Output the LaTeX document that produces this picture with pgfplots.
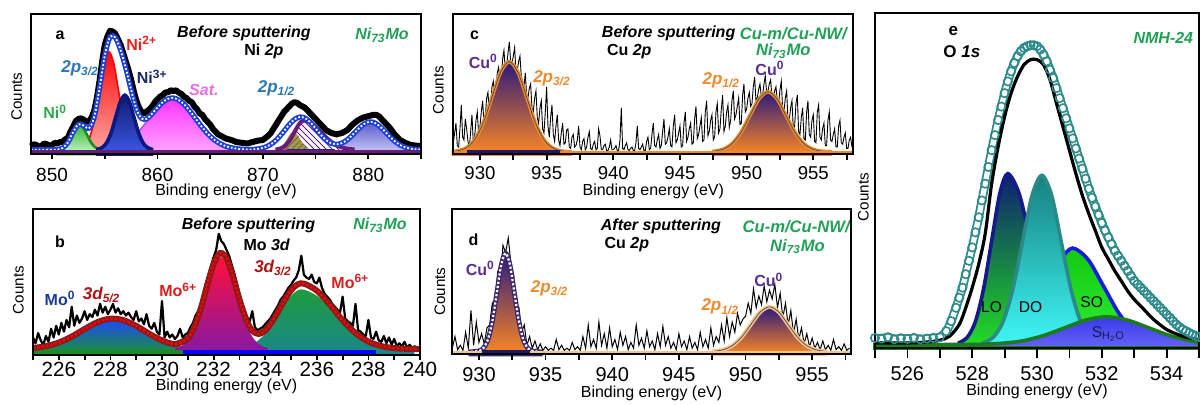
\documentclass[border=0pt]{standalone}
\usepackage{fontspec}
\setmainfont{Liberation Sans}
\usepackage{pgfplots}
\pgfplotsset{compat=1.18}
\usetikzlibrary{patterns}
\newcommand{\fs}[1]{\fontsize{#1}{#1}\selectfont}
\definecolor{ni0green}{HTML}{2BA84A}
\definecolor{labgreen}{HTML}{1FA055}
\definecolor{nired}{HTML}{E8201F}
\definecolor{ninavy}{HTML}{1A2A6C}
\definecolor{labblue}{HTML}{2877B8}
\definecolor{satpink}{HTML}{E66EE6}
\definecolor{envblue}{HTML}{1C3FD6}
\definecolor{bgpurple}{HTML}{6A1A7A}
\definecolor{modark}{HTML}{8B1A1A}
\definecolor{moblue}{HTML}{1A3A9A}
\definecolor{mored}{HTML}{D81E1E}
\definecolor{cupurple}{HTML}{5A2D91}
\definecolor{cuorange}{HTML}{EE8A2C}
\definecolor{tealdata}{HTML}{2E8B8B}
\definecolor{mogreenbar}{RGB}{25,140,40}
\definecolor{cunavy}{RGB}{25,25,110}
\definecolor{cupeach}{RGB}{245,195,140}
\definecolor{shtext}{RGB}{26,26,90}
\pgfplotsset{
  xpsaxis/.style={
    scale only axis, axis on top, clip=false, anchor=south west,
    axis line style={line width=1pt},
    ytick=\empty, ymin=0, ymax=100,
    tick align=outside, xtick pos=left,
    major tick length=2.5pt, minor tick length=2.5pt,
    every tick/.style={black, line width=0.9pt},
    /pgf/number format/assume math mode=true,
    /pgf/number format/1000 sep={},
  }
}
\begin{document}
\begin{tikzpicture}
\useasboundingbox (0,0) rectangle (600pt,202.5pt);

%%%%%%%%%%%%%%%% PANEL A
\begin{axis}[xpsaxis, at={(15.5pt,125.5pt)}, width=195pt, height=70pt,
  xmin=848, xmax=885, xtick={850,860,870,880}, minor xtick={855,865,875,885},
  xticklabel style={font=\fs{9.5}, anchor=center, yshift=-8pt}]
\addplot[black, line width=3pt, line join=round] coordinates {
(848,5.5) (848.25,7) (848.5,6.5) (848.75,5) (849,5.8) (849.25,7.5) (849.5,7.0) (849.75,6) (850,6.2) (850.25,8) (850.5,7.5) (850.75,8.5) (851,8.8) (851.25,10.5) (851.5,11.5) (851.75,16) (852,19.5) (852.25,23.5) (852.5,25) (852.75,25.5) (853,24.5) (853.25,23) (853.5,23.5) (853.75,26) (854,31) (854.25,40) (854.5,52) (854.75,66) (855,78) (855.25,84) (855.5,88) (855.75,87.5) (856,86) (856.25,82) (856.5,78) (856.75,72) (857,66) (857.25,60) (857.5,53) (857.75,45) (858,38) (858.25,33) (858.5,30) (858.75,29) (859,30.5) (859.25,32) (859.5,34) (859.75,37) (860,39) (860.25,41) (860.5,42) (860.75,44) (861,44) (861.25,45.5) (861.5,45) (861.75,45.5) (862,44) (862.25,43) (862.5,41) (862.75,40) (863,38) (863.25,37) (863.5,34) (863.75,32) (864,29) (864.25,28) (864.5,25) (864.75,23) (865,21) (865.25,18) (865.5,16) (865.75,14) (866,13) (866.25,12) (866.5,11) (866.75,10.5) (867,10) (867.5,8.5) (868,8) (868.5,7.5) (869,8.5) (869.5,9.5) (870,10) (870.25,11.5) (870.5,13) (870.75,15) (871,18) (871.25,21) (871.5,24) (871.75,27) (872,30) (872.25,32) (872.5,34) (872.75,36) (873,37) (873.25,36.5) (873.5,35) (873.75,34) (874,33) (874.25,31) (874.5,29) (874.75,27) (875,25) (875.25,23) (875.5,21) (875.75,19) (876,17) (876.5,15) (877,14) (877.5,15) (878,17) (878.5,21) (879,24) (879.5,26) (880,27) (880.25,27.5) (880.5,28) (880.75,28) (881,27) (881.5,23) (882,19) (882.5,14) (883,10) (883.5,8) (884,6.5) (884.5,6) (885,5.5)};
% Sat
\addplot[draw=satpink!80!black, line width=0.8pt, smooth, top color={rgb,255:red,255;green,50;blue,255}, bottom color={rgb,255:red,255;green,170;blue,255}] coordinates {
(854.8,3.4) (855.9,4.6) (857,8.0) (858.1,15.0) (859.2,25.4) (860.3,35.7) (861.4,40) (862.5,35.7) (863.6,25.4) (864.7,15.0) (865.8,8.0) (866.9,4.6) (868,3.4)} \closedcycle;
% Ni2+
\addplot[draw=red, line width=0.8pt, smooth, top color={rgb,255:red,255;green,10;blue,10}, bottom color={rgb,255:red,250;green,170;blue,165}] coordinates {
(852.7,3.8) (853.15,6.1) (853.6,12.5) (854.05,25.7) (854.5,45.5) (854.95,64.8) (855.4,73) (855.85,64.8) (856.3,45.5) (856.75,25.7) (857.2,12.5) (857.65,6.1) (858.1,3.8)} \closedcycle;
% Ni0
\addplot[draw={rgb,255:red,30;green,140;blue,30}, line width=1.3pt, smooth, top color={rgb,255:red,50;green,185;blue,50}, bottom color={rgb,255:red,200;green,245;blue,200}] coordinates {
(850.5,3.2) (850.85,3.8) (851.2,5.4) (851.55,8.8) (851.9,13.9) (852.25,18.9) (852.6,21) (852.95,18.9) (853.3,13.9) (853.65,8.8) (854,5.4) (854.35,3.8) (854.7,3.2)} \closedcycle;
% Ni3+
\addplot[draw={rgb,255:red,10;green,25;blue,125}, line width=1.8pt, smooth, top color={rgb,255:red,15;green,25;blue,110}, bottom color={rgb,255:red,60;green,90;blue,232}] coordinates {
(854.35,3.4) (854.78,4.7) (855.2,8.3) (855.63,15.7) (856.05,26.7) (856.48,37.4) (856.9,42) (857.33,37.4) (857.75,26.7) (858.18,15.7) (858.6,8.3) (859.03,4.7) (859.45,3.4)} \closedcycle;
% 880 peak
\addplot[draw=none, smooth, top color={rgb,255:red,90;green,90;blue,205}, bottom color={rgb,255:red,205;green,205;blue,248}] coordinates {
(875.7,3.2) (876.45,3.9) (877.2,5.7) (877.95,9.5) (878.7,15.1) (879.45,20.7) (880.2,23) (880.95,20.7) (881.7,15.1) (882.45,9.5) (883.2,5.7) (883.95,3.9) (884.7,3.2)} \closedcycle;
% purple hatched
\addplot[draw=none, smooth, fill=white] coordinates {
(871.2,3.2) (871.65,3.9) (872.1,5.8) (872.55,9.8) (873.0,15.7) (873.45,21.5) (873.9,24) (874.7,21.5) (875.5,15.7) (876.3,9.8) (877.1,5.8) (877.9,3.9) (878.7,3.2)} \closedcycle;
\addplot[draw=none, smooth, pattern=north west lines, pattern color=bgpurple] coordinates {
(871.2,3.2) (871.65,3.9) (872.1,5.8) (872.55,9.8) (873.0,15.7) (873.45,21.5) (873.9,24) (874.7,21.5) (875.5,15.7) (876.3,9.8) (877.1,5.8) (877.9,3.9) (878.7,3.2)} \closedcycle;
% olive
\addplot[draw=none, smooth, fill={rgb,255:red,170;green,155;blue,60}] coordinates {
(871.1,3.1) (871.4,3.6) (871.7,4.8) (872.0,7.2) (872.3,10.9) (872.6,14.5) (872.9,16) (873.2,14.5) (873.5,10.9) (873.8,7.2) (874.1,4.8) (874.4,3.6) (874.7,3.1)} \closedcycle;
\addplot[draw=none, smooth, pattern=north east lines, pattern color=black!60] coordinates {
(871.1,3.1) (871.4,3.6) (871.7,4.8) (872.0,7.2) (872.3,10.9) (872.6,14.5) (872.9,16) (873.2,14.5) (873.5,10.9) (873.8,7.2) (874.1,4.8) (874.4,3.6) (874.7,3.1)} \closedcycle;
\addplot[bgpurple, line width=2pt, smooth] coordinates {
(871.2,3.2) (871.65,3.9) (872.1,5.8) (872.55,9.8) (873.0,15.7) (873.45,21.5) (873.9,24) (874.7,21.5) (875.5,15.7) (876.3,9.8) (877.1,5.8) (877.9,3.9) (878.7,3.2)};
\addplot[ninavy, line width=1.5pt] coordinates {(872.3,2.6) (876.8,2.6)};
% envelope
\addplot[envblue, line width=2.6pt, smooth] coordinates {
(848,3) (848.5,3) (849,3) (849.5,3) (850,3) (850.5,3.2) (851,4.3) (851.5,8.2) (852,15.6) (852.5,21.2) (853,20.3) (853.5,18.4) (854,26.4) (854.5,46.7) (855,70.2) (855.5,83.6) (856,83.2) (856.5,74.2) (857,61.1) (857.5,45.7) (858,32.2) (858.5,25.3) (859,25.2) (859.5,28.9) (860,33.2) (860.5,37) (861,39.4) (861.5,40) (862,38.6) (862.5,35.7) (863,31.4) (863.5,26.5) (864,21.4) (864.5,16.7) (865,12.7) (865.5,9.5) (866,7.2) (866.5,5.5) (867,4.5) (867.5,3.8) (868,3.4) (868.5,3.2) (869,3.2) (869.5,3.6) (870,4.3) (870.5,5.8) (871,8.2) (871.5,11.8) (872,16.3) (872.5,21) (873,24.7) (873.5,26.4) (874,25.7) (874.5,22.6) (875,18.3) (875.5,13.7) (876,9.9) (876.5,7.6) (877,6.9) (877.5,7.8) (878,10.1) (878.5,13.6) (879,17.5) (879.5,20.9) (880,22.8) (880.5,22.6) (881,20.3) (881.5,16.7) (882,12.7) (882.5,9.2) (883,6.5) (883.5,4.8) (884,3.8) (884.5,3.3) (885,3.1)};
\addplot[white, line width=0.9pt, densely dotted, smooth] coordinates {
(848,3) (848.5,3) (849,3) (849.5,3) (850,3) (850.5,3.2) (851,4.3) (851.5,8.2) (852,15.6) (852.5,21.2) (853,20.3) (853.5,18.4) (854,26.4) (854.5,46.7) (855,70.2) (855.5,83.6) (856,83.2) (856.5,74.2) (857,61.1) (857.5,45.7) (858,32.2) (858.5,25.3) (859,25.2) (859.5,28.9) (860,33.2) (860.5,37) (861,39.4) (861.5,40) (862,38.6) (862.5,35.7) (863,31.4) (863.5,26.5) (864,21.4) (864.5,16.7) (865,12.7) (865.5,9.5) (866,7.2) (866.5,5.5) (867,4.5) (867.5,3.8) (868,3.4) (868.5,3.2) (869,3.2) (869.5,3.6) (870,4.3) (870.5,5.8) (871,8.2) (871.5,11.8) (872,16.3) (872.5,21) (873,24.7) (873.5,26.4) (874,25.7) (874.5,22.6) (875,18.3) (875.5,13.7) (876,9.9) (876.5,7.6) (877,6.9) (877.5,7.8) (878,10.1) (878.5,13.6) (879,17.5) (879.5,20.9) (880,22.8) (880.5,22.6) (881,20.3) (881.5,16.7) (882,12.7) (882.5,9.2) (883,6.5) (883.5,4.8) (884,3.8) (884.5,3.3) (885,3.1)};
\addplot[bgpurple, line width=2pt] coordinates {(848,1.2) (885,1.2)};
\node[font={\fs{8}\bfseries}] at (850.75,85) {a};
\node[font={\fs{8}\bfseries\itshape}] at (868.2,86.2) {Before sputtering};
\node[font={\fs{8}\bfseries}] at (870.1,73) {Ni \textit{2p}};
\node[font={\fs{8}\bfseries\itshape}, text=labgreen] at (881.3,85) {Ni\textsubscript{73}Mo};
\node[font={\fs{8}\bfseries}, text=nired] at (858.5,79) {Ni\textsuperscript{2+}};
\node[font={\fs{8.5}\bfseries\itshape}, text=labblue] at (852.65,61.2) {2p\textsubscript{3/2}};
\node[font={\fs{8}\bfseries}, text=ninavy] at (859.5,55.2) {Ni\textsuperscript{3+}};
\node[font={\fs{8}\bfseries\itshape}, text=satpink] at (864.4,45.7) {Sat.};
\node[font={\fs{8.5}\bfseries\itshape}, text=labblue] at (871.3,47) {2p\textsubscript{1/2}};
\node[font={\fs{8}\bfseries}, text=ni0green] at (850.3,30.2) {Ni\textsuperscript{0}};
\node[font=\fs{7.6}, rotate=90, yshift=7.2pt] at (rel axis cs:0,0.41) {Counts};
\node[font=\fs{8}, yshift=-18.5pt] at (rel axis cs:0.5,0) {Binding energy (eV)};
\end{axis}

%%%%%%%%%%%%%%%% PANEL B
\begin{axis}[xpsaxis, at={(16.5pt,25pt)}, width=193.5pt, height=73pt,
  xmin=225, xmax=240, xtick={226,228,230,232,234,236,238,240}, minor xtick={225,227,229,231,233,235,237,239},
  xticklabel style={font=\fs{10.3}, anchor=center, yshift=-4.5pt}]
\addplot[black, line width=1.1pt, line join=round] coordinates {
(225.0,12) (225.1,8) (225.2,15) (225.3,10) (225.4,7) (225.5,13) (225.6,9) (225.7,18) (225.8,12) (225.9,20) (226.0,14) (226.1,22) (226.2,16) (226.3,24) (226.4,19) (226.5,33) (226.6,20) (226.7,27) (226.8,22) (226.9,25) (227.0,30) (227.1,24) (227.2,28) (227.3,26) (227.4,31) (227.5,27) (227.6,35) (227.7,29) (227.8,33) (227.9,28) (228.0,31) (228.1,35) (228.2,29) (228.3,32) (228.4,28) (228.5,30) (228.6,27) (228.7,29) (228.8,26) (228.9,24) (229.0,30) (229.1,23) (229.2,25) (229.3,21) (229.4,28) (229.5,20) (229.6,18) (229.7,22) (229.8,16) (229.9,14) (230.0,37) (230.1,12) (230.2,16) (230.3,12) (230.4,14) (230.5,11) (230.6,13) (230.7,18) (230.8,12) (230.9,14) (231.0,15) (231.1,19) (231.2,22) (231.3,27) (231.4,30) (231.5,35) (231.6,42) (231.7,49) (231.8,55) (231.9,61) (232.0,67) (232.1,72) (232.2,83) (232.3,78) (232.4,76) (232.5,72) (232.6,68) (232.7,62) (232.8,56) (232.9,49) (233.0,42) (233.1,36) (233.2,31) (233.3,26) (233.4,23) (233.5,30) (233.6,19) (233.7,17) (233.8,18) (233.9,19) (234.0,21) (234.1,23) (234.2,25) (234.3,28) (234.4,31) (234.5,34) (234.6,38) (234.7,40) (234.8,43) (234.9,46) (235.0,48) (235.1,51) (235.2,53) (235.3,58) (235.4,68) (235.5,55) (235.6,53) (235.7,52) (235.8,55) (235.9,50) (236.0,49) (236.1,53) (236.2,46) (236.3,42) (236.4,40) (236.5,38) (236.6,35) (236.7,33) (236.8,31) (236.9,29) (237.0,40) (237.1,25) (237.2,23) (237.3,22) (237.4,20) (237.5,35) (237.6,17) (237.7,16) (237.8,14) (237.9,13) (238.0,24) (238.1,12) (238.2,11) (238.3,16) (238.4,10) (238.5,9) (238.6,13) (238.7,8) (238.8,12) (238.9,7) (239.0,11) (239.1,6) (239.2,8) (239.3,6) (239.4,9) (239.5,5) (239.6,7) (239.7,5) (239.8,6) (239.9,5) (240.0,5)};
% Mo0
\addplot[draw=none, smooth, top color={rgb,255:red,30;green,70;blue,255}, bottom color={rgb,255:red,25;green,150;blue,45}] coordinates {
(225,4.75) (225.1,4.9) (225.7,6.8) (226.3,10.8) (226.9,16.7) (227.5,22.5) (228.1,25) (228.7,22.5) (229.3,16.7) (229.9,10.8) (230.5,6.8) (231.1,4.9) (231.7,4.2) (232.3,4.0)} \closedcycle;
% green
\addplot[draw=none, smooth, top color={rgb,255:red,30;green,155;blue,60}, bottom color={rgb,255:red,25;green,135;blue,140}] coordinates {
(232.85,4.5) (233.28,5.8) (233.7,9.5) (234.13,17.3) (234.55,28.9) (234.98,40.2) (235.4,45) (236.03,40.2) (236.65,28.9) (237.28,17.3) (237.9,9.5) (238.53,5.8) (239.15,4.5) (239.78,4.1)} \closedcycle;
% red
\addplot[draw=none, smooth, top color={rgb,255:red,255;green,15;blue,60}, bottom color={rgb,255:red,130;green,25;blue,165}] coordinates {
(230.5,4.7) (230.8,6.8) (231.1,12.5) (231.4,24.5) (231.7,42.2) (232.0,59.6) (232.3,67) (232.6,59.6) (232.9,42.2) (233.2,24.5) (233.5,12.5) (233.8,6.8) (234.1,4.7)} \closedcycle;
\addplot[blue, line width=2.5pt] coordinates {(230.8,1.6) (238.3,1.6)};
\addplot[mogreenbar, line width=2.5pt] coordinates {(225,1.6) (230.8,1.6)};
% envelope
\addplot[modark, line width=3pt, smooth] coordinates {
(225,4.8) (225.5,6.0) (226,8.5) (226.5,12.6) (227,17.8) (227.5,22.5) (228,24.9) (228.5,23.9) (229,19.9) (229.5,14.6) (230,10.0) (230.5,7.5) (231,11.4) (231.25,19.0) (231.5,31.5) (231.75,47.6) (232,62.3) (232.25,69.8) (232.5,66.4) (232.75,53.8) (233,38.2) (233.25,24.7) (233.5,16.6) (233.75,14.4) (234,16.8) (234.25,22.4) (234.5,29.8) (234.75,37.6) (235,44.3) (235.25,48.3) (235.5,48.9) (236,44.1) (236.5,34.6) (237,23.8) (237.5,15.0) (238,9.2) (238.5,6.1) (239,4.7) (239.5,4.2) (240,4.0)};
\addplot[red, line width=1.2pt, densely dotted, smooth] coordinates {
(225,4.8) (225.5,6.0) (226,8.5) (226.5,12.6) (227,17.8) (227.5,22.5) (228,24.9) (228.5,23.9) (229,19.9) (229.5,14.6) (230,10.0) (230.5,7.5) (231,11.4) (231.25,19.0) (231.5,31.5) (231.75,47.6) (232,62.3) (232.25,69.8) (232.5,66.4) (232.75,53.8) (233,38.2) (233.25,24.7) (233.5,16.6) (233.75,14.4) (234,16.8) (234.25,22.4) (234.5,29.8) (234.75,37.6) (235,44.3) (235.25,48.3) (235.5,48.9) (236,44.1) (236.5,34.6) (237,23.8) (237.5,15.0) (238,9.2) (238.5,6.1) (239,4.7) (239.5,4.2) (240,4.0)};
\node[font={\fs{8}\bfseries}] at (226.05,77.6) {b};
\node[font={\fs{8}\bfseries\itshape}] at (233.35,89) {Before sputtering};
\node[font={\fs{8}\bfseries}] at (234.06,75.3) {Mo \textit{3d}};
\node[font={\fs{8}\bfseries\itshape}, text=labgreen] at (238.45,89) {Ni\textsubscript{73}Mo};
\node[font={\fs{8}\bfseries}, text=moblue] at (226.05,38.8) {Mo\textsuperscript{0}};
\node[font={\fs{8.5}\bfseries\itshape}, text=modark!70!red] at (227.66,41.1) {3d\textsubscript{5/2}};
\node[font={\fs{8}\bfseries}, text=mored] at (230.63,44.5) {Mo\textsuperscript{6+}};
\node[font={\fs{8.5}\bfseries\itshape}, text=modark!70!red] at (234.3,59.4) {3d\textsubscript{3/2}};
\node[font={\fs{8}\bfseries}, text=mored] at (237.3,50.2) {Mo\textsuperscript{6+}};
\node[font=\fs{7.6}, rotate=90, yshift=7.3pt] at (rel axis cs:0,0.445) {Counts};
\node[font=\fs{8}, yshift=-15.6pt] at (rel axis cs:0.5,0) {Binding energy (eV)};
\end{axis}

%%%%%%%%%%%%%%%% PANEL C
\begin{axis}[xpsaxis, at={(226.65pt,125.5pt)}, width=200pt, height=70pt,
  xmin=928, xmax=958, xtick={930,935,940,945,950,955}, minor xtick={932.5,937.5,942.5,947.5,952.5,957.5},
  major tick length=3.2pt, minor tick length=3.2pt,
  xticklabel style={font=\fs{9.3}, anchor=center, yshift=-6.2pt}]
\addplot[black, line width=0.45pt] coordinates {
(928.0,8) (928.1,15) (928.2,22) (928.3,6) (928.4,5) (928.5,18) (928.6,35) (928.7,12) (928.8,10) (928.9,25) (929.0,18) (929.1,9) (929.2,4) (929.3,16) (929.4,28) (929.5,8) (929.6,12) (929.7,24) (929.8,30) (929.9,14) (930.0,20) (930.1,30) (930.2,38) (930.3,22) (930.4,27) (930.5,40) (930.6,44) (930.7,30) (930.8,33) (930.9,48) (931.0,52) (931.1,40) (931.2,45) (931.3,58) (931.4,62) (931.5,50) (931.6,55) (931.7,68) (931.8,74) (931.9,60) (932.0,63) (932.1,72) (932.2,80) (932.3,66) (932.4,64) (932.5,70) (932.6,76) (932.7,58) (932.8,60) (932.9,66) (933.0,70) (933.1,55) (933.2,52) (933.3,48) (933.4,58) (933.5,42) (933.6,40) (933.7,47) (933.8,50) (933.9,33) (934.0,30) (934.1,40) (934.2,45) (934.3,26) (934.4,22) (934.5,33) (934.6,38) (934.7,18) (934.8,15) (934.9,30) (935.0,48) (935.1,20) (935.2,12) (935.3,26) (935.4,35) (935.5,14) (935.6,9) (935.7,20) (935.8,28) (935.9,10) (936.0,6) (936.1,15) (936.2,22) (936.3,7) (936.4,8) (936.5,17) (936.6,18) (936.7,5) (936.8,4) (936.9,12) (937.0,14) (937.1,5) (937.2,6) (937.3,10) (937.4,20) (937.5,5) (937.6,3) (937.7,9) (937.8,11) (937.9,3) (938.0,5) (938.1,12) (938.2,16) (938.3,4) (938.4,3) (938.5,7) (938.6,9) (938.7,3) (938.8,4) (938.9,18) (939.0,13) (939.1,3) (939.2,3) (939.3,6) (939.4,7) (939.5,2.5) (939.6,2.5) (939.7,5) (939.8,10) (939.9,3) (940.0,3) (940.1,4) (940.2,6) (940.3,2.5) (940.4,2.5) (940.5,10) (940.6,33) (940.7,4) (940.8,3) (940.9,6) (941.0,8) (941.1,3) (941.2,2.5) (941.3,4) (941.4,5) (941.5,2.5) (941.6,2.5) (941.7,8) (941.8,20) (941.9,4) (942.0,3) (942.1,5) (942.2,7) (942.3,2.5) (942.4,2.5) (942.5,9) (942.6,12) (942.7,3) (942.8,4) (942.9,14) (943.0,22) (943.1,6) (943.2,5) (943.3,10) (943.4,14) (943.5,4) (943.6,6) (943.7,16) (943.8,25) (943.9,7) (944.0,8) (944.1,12) (944.2,18) (944.3,6) (944.4,5) (944.5,20) (944.6,28) (944.7,8) (944.8,10) (944.9,15) (945.0,20) (945.1,5) (945.2,6) (945.3,22) (945.4,30) (945.5,9) (945.6,12) (945.7,18) (945.8,22) (945.9,7) (946.0,8) (946.1,25) (946.2,34) (946.3,11) (946.4,14) (946.5,20) (946.6,26) (946.7,9) (946.8,10) (946.9,30) (947.0,38) (947.1,13) (947.2,16) (947.3,24) (947.4,28) (947.5,10) (947.6,12) (947.7,30) (947.8,36) (947.9,15) (948.0,18) (948.1,32) (948.2,42) (948.3,16) (948.4,20) (948.5,30) (948.6,35) (948.7,19) (948.8,24) (948.9,38) (949.0,45) (949.1,25) (949.2,28) (949.3,34) (949.4,40) (949.5,21) (949.6,22) (949.7,42) (949.8,50) (949.9,30) (950.0,32) (950.1,40) (950.2,44) (950.3,34) (950.4,36) (950.5,48) (950.6,55) (950.7,38) (950.8,40) (950.9,46) (951.0,50) (951.1,41) (951.2,42) (951.3,50) (951.4,56) (951.5,44) (951.6,45) (951.7,50) (951.8,53) (951.9,41) (952.0,40) (952.1,45) (952.2,48) (952.3,38) (952.4,36) (952.5,46) (952.6,52) (952.7,32) (952.8,30) (952.9,40) (953.0,45) (953.1,25) (953.2,24) (953.3,33) (953.4,38) (953.5,18) (953.6,20) (953.7,36) (953.8,42) (953.9,16) (954.0,14) (954.1,26) (954.2,33) (954.3,11) (954.4,10) (954.5,30) (954.6,38) (954.7,14) (954.8,12) (954.9,24) (955.0,28) (955.1,9) (955.2,8) (955.3,30) (955.4,35) (955.5,12) (955.6,10) (955.7,18) (955.8,22) (955.9,6) (956.0,6) (956.1,24) (956.2,30) (956.3,10) (956.4,9) (956.5,14) (956.6,18) (956.7,5) (956.8,5) (956.9,20) (957.0,24) (957.1,8) (957.2,7) (957.3,12) (957.4,15) (957.5,4) (957.6,4) (957.7,10) (957.8,12) (957.9,5) (958.0,5)};
\addplot[draw=cuorange, line width=1.8pt, smooth, top color={rgb,255:red,45;green,25;blue,125}, middle color={rgb,255:red,215;green,120;blue,70}, bottom color={rgb,255:red,250;green,135;blue,35}] coordinates {
(928,1.85) (928.3,2.2) (928.95,4.3) (929.6,10.2) (930.25,22.4) (930.9,40.6) (931.55,58.4) (932.2,66) (932.85,58.4) (933.5,40.6) (934.15,22.4) (934.8,10.2) (935.45,4.3) (936.1,2.2) (936.75,1.6)} \closedcycle;
\addplot[draw=cuorange, line width=1.8pt, smooth, top color={rgb,255:red,45;green,25;blue,125}, middle color={rgb,255:red,215;green,120;blue,70}, bottom color={rgb,255:red,250;green,135;blue,35}] coordinates {
(947.55,2.0) (948.23,3.4) (948.9,7.3) (949.58,15.5) (950.25,27.6) (950.93,39.4) (951.6,44.5) (952.28,39.4) (952.95,27.6) (953.63,15.5) (954.3,7.3) (954.98,3.4) (955.65,2.0) (956.3,1.6)} \closedcycle;
\addplot[black!70, line width=0.35pt, smooth] coordinates {
(928,1.85) (928.3,2.2) (928.95,4.3) (929.6,10.2) (930.25,22.4) (930.9,40.6) (931.55,58.4) (932.2,66) (932.85,58.4) (933.5,40.6) (934.15,22.4) (934.8,10.2) (935.45,4.3) (936.1,2.2) (936.75,1.6)};
\addplot[black!70, line width=0.35pt, smooth] coordinates {
(947.55,2.0) (948.23,3.4) (948.9,7.3) (949.58,15.5) (950.25,27.6) (950.93,39.4) (951.6,44.5) (952.28,39.4) (952.95,27.6) (953.63,15.5) (954.3,7.3) (954.98,3.4) (955.65,2.0) (956.3,1.6)};
\addplot[cunavy, line width=2pt] coordinates {(929,1.3) (936,1.3)};
\addplot[cuorange, line width=1.6pt] coordinates {(928,1.3) (929,1.3)};
\addplot[cuorange, line width=1.6pt] coordinates {(936,1.3) (958,1.3)};
\node[font={\fs{8}\bfseries}] at (929.6,85) {c};
\node[font={\fs{8}\bfseries\itshape}] at (944.15,86.2) {Before sputtering};
\node[font={\fs{8}\bfseries}, anchor=west] at (939.0,73) {Cu \textit{2p}};
\node[font={\fs{8.3}\bfseries\itshape}, text=labgreen] at (953.5,86.2) {Cu-m/Cu-NW/};
\node[font={\fs{8.3}\bfseries\itshape}, text=labgreen] at (952.75,73.5) {Ni\textsubscript{73}Mo};
\node[font={\fs{8}\bfseries}, text=cupurple] at (930.25,66) {Cu\textsuperscript{0}};
\node[font={\fs{8.5}\bfseries\itshape}, text=cuorange] at (935.4,54) {2p\textsubscript{3/2}};
\node[font={\fs{8.5}\bfseries\itshape}, text=cuorange] at (948.1,52.9) {2p\textsubscript{1/2}};
\node[font={\fs{8}\bfseries}, text=cupurple] at (951.75,61) {Cu\textsuperscript{0}};
\node[font=\fs{7.6}, rotate=90, yshift=7.5pt] at (rel axis cs:0,0.457) {Counts};
\node[font=\fs{8}, yshift=-18.5pt] at (rel axis cs:0.5,0) {Binding energy (eV)};
\end{axis}

%%%%%%%%%%%%%%%% PANEL D
\begin{axis}[xpsaxis, at={(226.15pt,25.5pt)}, width=199.25pt, height=72.5pt,
  xmin=928, xmax=957.9, xtick={930,935,940,945,950,955}, minor xtick={932.5,937.5,942.5,947.5,952.5,957.5},
  major tick length=3pt, minor tick length=3pt,
  xticklabel style={font=\fs{10}, anchor=center, yshift=-7.3pt}]
\addplot[black, line width=0.5pt] coordinates {
(928.0,4) (928.2,12) (928.4,3) (928.6,6) (928.8,2.5) (929.0,15) (929.2,4) (929.4,30) (929.6,6) (929.8,22) (930.0,8) (930.2,14) (930.4,7) (930.6,18) (930.8,20) (931.0,35) (931.2,28) (931.4,56) (931.6,50) (931.8,75) (932.0,70) (932.2,80) (932.4,62) (932.6,55) (932.8,30) (933.0,32) (933.2,15) (933.4,20) (933.6,6) (933.8,12) (934.0,4) (934.2,9) (934.4,3) (934.6,7) (934.8,2.5) (935.0,5) (935.2,2.5) (935.4,4) (935.6,2.5) (935.8,10) (936.0,3) (936.2,6) (936.4,2.5) (936.6,4) (936.8,2.5) (937.0,8) (937.2,3) (937.4,5) (937.6,2.5) (937.8,12) (938.0,4) (938.2,20) (938.4,5) (938.6,10) (938.8,4) (939.0,22) (939.2,6) (939.4,14) (939.6,4) (939.8,18) (940.0,5) (940.2,10) (940.4,3) (940.6,15) (940.8,6) (941.0,12) (941.2,3) (941.4,8) (941.6,4) (941.8,20) (942.0,6) (942.2,11) (942.4,4) (942.6,16) (942.8,5) (943.0,9) (943.2,3) (943.4,14) (943.6,5) (943.8,19) (944.0,6) (944.2,12) (944.4,4) (944.6,8) (944.8,3) (945.0,14) (945.2,5) (945.4,9) (945.6,3) (945.8,12) (946.0,4) (946.2,8) (946.4,3) (946.6,15) (946.8,5) (947.0,10) (947.2,4) (947.4,18) (947.6,6) (947.8,12) (948.0,8) (948.2,20) (948.4,9) (948.6,25) (948.8,12) (949.0,22) (949.2,15) (949.4,28) (949.6,20) (949.8,24) (950.0,26) (950.2,35) (950.4,28) (950.6,45) (950.8,32) (951.0,40) (951.2,34) (951.4,47) (951.6,36) (951.8,44) (952.0,38) (952.2,48) (952.4,32) (952.6,42) (952.8,25) (953.0,35) (953.2,20) (953.4,30) (953.6,14) (953.8,24) (954.0,10) (954.2,18) (954.4,7) (954.6,14) (954.8,5) (955.0,11) (955.2,4) (955.4,8) (955.6,3) (955.8,9) (956.0,3) (956.2,6) (956.4,2.5) (956.6,10) (956.8,3) (957.0,5) (957.2,2.5) (957.4,7) (957.6,2.5) (957.8,4)};
\addplot[draw={rgb,255:red,60;green,40;blue,110}, line width=2.4pt, smooth, top color={rgb,255:red,45;green,25;blue,125}, middle color={rgb,255:red,215;green,120;blue,70}, bottom color={rgb,255:red,250;green,135;blue,35}] coordinates {
(929.4,1.5) (930.05,2.25) (930.375,4.5) (930.7,10.7) (931.025,23.6) (931.35,42.7) (931.675,61.5) (932.0,69.5) (932.325,61.5) (932.65,42.7) (932.975,23.6) (933.3,10.7) (933.625,4.5) (933.95,2.25) (934.6,1.5)} \closedcycle;
\addplot[white, line width=1.1pt, densely dotted, smooth] coordinates {
(929.4,1.5) (930.05,2.25) (930.375,4.5) (930.7,10.7) (931.025,23.6) (931.35,42.7) (931.675,61.5) (932.0,69.5) (932.325,61.5) (932.65,42.7) (932.975,23.6) (933.3,10.7) (933.625,4.5) (933.95,2.25) (934.6,1.5)};
\addplot[draw=cupeach, line width=2pt, smooth, top color={rgb,255:red,45;green,25;blue,125}, middle color={rgb,255:red,215;green,120;blue,70}, bottom color={rgb,255:red,250;green,135;blue,35}] coordinates {
(947.6,1.8) (948.3,2.9) (949.0,5.7) (949.7,11.6) (950.4,20.3) (951.1,28.9) (951.8,32.5) (952.5,28.9) (953.2,20.3) (953.9,11.6) (954.6,5.7) (955.3,2.9) (956.0,1.8)} \closedcycle;
\addplot[black!70, line width=0.35pt, smooth] coordinates {
(947.6,1.8) (948.3,2.9) (949.0,5.7) (949.7,11.6) (950.4,20.3) (951.1,28.9) (951.8,32.5) (952.5,28.9) (953.2,20.3) (953.9,11.6) (954.6,5.7) (955.3,2.9) (956.0,1.8)};
\addplot[cunavy, line width=2pt] coordinates {(930.2,1.3) (933.8,1.3)};
\addplot[cupeach, line width=1.6pt] coordinates {(928,1.3) (930.2,1.3)};
\addplot[cupeach, line width=1.6pt] coordinates {(933.8,1.3) (957.9,1.3)};
\node[font={\fs{8}\bfseries}] at (929.6,78.6) {d};
\node[font={\fs{8}\bfseries\itshape}] at (943.65,87.8) {After sputtering};
\node[font={\fs{8}\bfseries}, anchor=west] at (938.9,75.2) {Cu \textit{2p}};
\node[font={\fs{8.3}\bfseries\itshape}, text=labgreen] at (953.8,87.8) {Cu-m/Cu-NW/};
\node[font={\fs{8.3}\bfseries\itshape}, text=labgreen] at (953.9,74) {Ni\textsubscript{73}Mo};
\node[font={\fs{8}\bfseries}, text=cupurple] at (930.1,59.1) {Cu\textsuperscript{0}};
\node[font={\fs{8.5}\bfseries\itshape}, text=cuorange] at (935.3,45.3) {2p\textsubscript{3/2}};
\node[font={\fs{8}\bfseries}, text=cupurple] at (951.75,51) {Cu\textsuperscript{0}};
\node[font={\fs{8.5}\bfseries\itshape}, text=cuorange] at (948.1,32.6) {2p\textsubscript{1/2}};
\node[font=\fs{7.6}, rotate=90, yshift=6.2pt] at (rel axis cs:0,0.43) {Counts};
\node[font=\fs{8}, yshift=-19.6pt] at (rel axis cs:0.5,0) {Binding energy (eV)};
\end{axis}

%%%%%%%%%%%%%%%% PANEL E
\begin{axis}[xpsaxis, at={(437.5pt,28.5pt)}, width=162pt, height=167.65pt,
  xmin=525, xmax=535, xtick={526,528,530,532,534}, minor xtick={525,527,529,531,533,535},
  major tick length=5pt, minor tick length=5pt,
  xticklabel style={font=\fs{10}, anchor=center, yshift=-7.6pt}]
% SO
\addplot[draw={rgb,255:red,25;green,25;blue,230}, line width=1.8pt, smooth, top color={rgb,255:red,20;green,200;blue,20}, bottom color={rgb,255:red,45;green,240;blue,45}] coordinates {
(529.0,1.3) (529.35,2.3) (529.7,4.9) (530.05,10.4) (530.4,18.5) (530.75,26.4) (531.1,29.8) (531.575,26.4) (532.05,18.5) (532.525,10.4) (533.0,4.9) (533.475,2.3) (533.95,1.3)} \closedcycle;
% LO
\addplot[draw={rgb,255:red,20;green,26;blue,138}, line width=1.8pt, smooth, top color={rgb,255:red,13;green,31;blue,112}, bottom color={rgb,255:red,34;green,224;blue,34}] coordinates {
(527.6,1.6) (527.85,3.2) (528.1,7.9) (528.35,17.6) (528.6,31.9) (528.85,46.0) (529.1,52) (529.45,46.0) (529.8,31.9) (530.15,17.6) (530.5,7.9) (530.85,3.2) (531.2,1.6)} \closedcycle;
% DO
\addplot[draw={rgb,255:red,42;green,138;blue,138}, line width=1.8pt, smooth, top color={rgb,255:red,23;green,128;blue,128}, bottom color={rgb,255:red,64;green,248;blue,248}] coordinates {
(528.35,1.6) (528.65,3.2) (528.95,7.8) (529.25,17.4) (529.55,31.6) (529.85,45.6) (530.15,51.5) (530.45,45.6) (530.75,31.6) (531.05,17.4) (531.35,7.8) (531.65,3.2) (531.95,1.6)} \closedcycle;
% S_H2O
\addplot[draw={rgb,255:red,30;green,122;blue,30}, line width=1.8pt, smooth, top color={rgb,255:red,58;green,58;blue,232}, bottom color={rgb,255:red,100;green,100;blue,248}] coordinates {
(525,1.0) (526.5,1.0) (527.5,1.05) (528.25,1.1) (528.9,1.4) (529.55,2.1) (530.2,3.7) (530.85,6.0) (531.5,8.3) (532.15,9.3) (532.8,8.3) (533.45,6.0) (534.1,3.7) (534.75,2.1) (535,1.8)} \closedcycle;
% data circles
\addplot[tealdata, line width=4.4pt, smooth] coordinates {
(525.0,3.0) (525.2,2.8) (525.4,3.2) (525.6,2.6) (525.8,2.9) (526.0,2.7) (526.2,3.0) (526.4,2.6) (526.6,2.8) (526.8,3.0) (527.0,3.2) (527.2,5) (527.35,8) (527.5,12) (527.6,15) (527.7,18) (527.8,22) (527.9,26) (528.0,30) (528.1,34.5) (528.2,39) (528.3,44) (528.4,49) (528.5,54) (528.6,59) (528.7,63.5) (528.8,68) (528.9,72) (529.0,76) (529.1,79.5) (529.2,82.5) (529.3,85) (529.4,87) (529.5,88.5) (529.6,89.5) (529.7,90) (529.8,90.3) (529.9,90.3) (530.0,90) (530.1,89) (530.2,87.5) (530.3,85.5) (530.4,83) (530.5,80.5) (530.6,77.5) (530.7,74.5) (530.8,71.5) (530.9,68.5) (531.0,65.5) (531.1,62.5) (531.2,59.5) (531.3,56.5) (531.4,53.5) (531.5,50.5) (531.6,47.5) (531.7,44.8) (531.8,42.2) (531.9,39.7) (532.0,37.3) (532.1,35) (532.2,33) (532.3,31) (532.4,29) (532.5,27.5) (532.6,26) (532.7,24.5) (532.8,23) (532.9,21.5) (533.0,20) (533.1,19) (533.2,18) (533.3,17) (533.4,16) (533.5,15) (533.6,14) (533.7,13) (533.8,12) (533.9,11) (534.0,10) (534.1,9) (534.2,8) (534.3,7) (534.4,6.2) (534.5,5.5) (534.6,5) (534.7,4.5) (534.8,4) (534.9,3.6) (535.0,3.3)};
\addplot[white, line width=2.6pt, smooth] coordinates {
(525.0,3.0) (525.2,2.8) (525.4,3.2) (525.6,2.6) (525.8,2.9) (526.0,2.7) (526.2,3.0) (526.4,2.6) (526.6,2.8) (526.8,3.0) (527.0,3.2) (527.2,5) (527.35,8) (527.5,12) (527.6,15) (527.7,18) (527.8,22) (527.9,26) (528.0,30) (528.1,34.5) (528.2,39) (528.3,44) (528.4,49) (528.5,54) (528.6,59) (528.7,63.5) (528.8,68) (528.9,72) (529.0,76) (529.1,79.5) (529.2,82.5) (529.3,85) (529.4,87) (529.5,88.5) (529.6,89.5) (529.7,90) (529.8,90.3) (529.9,90.3) (530.0,90) (530.1,89) (530.2,87.5) (530.3,85.5) (530.4,83) (530.5,80.5) (530.6,77.5) (530.7,74.5) (530.8,71.5) (530.9,68.5) (531.0,65.5) (531.1,62.5) (531.2,59.5) (531.3,56.5) (531.4,53.5) (531.5,50.5) (531.6,47.5) (531.7,44.8) (531.8,42.2) (531.9,39.7) (532.0,37.3) (532.1,35) (532.2,33) (532.3,31) (532.4,29) (532.5,27.5) (532.6,26) (532.7,24.5) (532.8,23) (532.9,21.5) (533.0,20) (533.1,19) (533.2,18) (533.3,17) (533.4,16) (533.5,15) (533.6,14) (533.7,13) (533.8,12) (533.9,11) (534.0,10) (534.1,9) (534.2,8) (534.3,7) (534.4,6.2) (534.5,5.5) (534.6,5) (534.7,4.5) (534.8,4) (534.9,3.6) (535.0,3.3)};
\addplot[only marks, mark=o, mark size=2.1pt, tealdata, mark options={line width=0.8pt}] coordinates {
(525.0,3.0) (525.2,2.8) (525.4,3.2) (525.6,2.6) (525.8,2.9) (526.0,2.7) (526.2,3.0) (526.4,2.6) (526.6,2.8) (526.8,3.0) (527.0,3.2) (527.2,5) (527.35,8) (527.5,12) (527.6,15) (527.7,18) (527.8,22) (527.9,26) (528.0,30) (528.1,34.5) (528.2,39) (528.3,44) (528.4,49) (528.5,54) (528.6,59) (528.7,63.5) (528.8,68) (528.9,72) (529.0,76) (529.1,79.5) (529.2,82.5) (529.3,85) (529.4,87) (529.5,88.5) (529.6,89.5) (529.7,90) (529.8,90.3) (529.9,90.3) (530.0,90) (530.1,89) (530.2,87.5) (530.3,85.5) (530.4,83) (530.5,80.5) (530.6,77.5) (530.7,74.5) (530.8,71.5) (530.9,68.5) (531.0,65.5) (531.1,62.5) (531.2,59.5) (531.3,56.5) (531.4,53.5) (531.5,50.5) (531.6,47.5) (531.7,44.8) (531.8,42.2) (531.9,39.7) (532.0,37.3) (532.1,35) (532.2,33) (532.3,31) (532.4,29) (532.5,27.5) (532.6,26) (532.7,24.5) (532.8,23) (532.9,21.5) (533.0,20) (533.1,19) (533.2,18) (533.3,17) (533.4,16) (533.5,15) (533.6,14) (533.7,13) (533.8,12) (533.9,11) (534.0,10) (534.1,9) (534.2,8) (534.3,7) (534.4,6.2) (534.5,5.5) (534.6,5) (534.7,4.5) (534.8,4) (534.9,3.6) (535.0,3.3)};
% fit
\addplot[black, line width=1.6pt, smooth] coordinates {
(525,1.5) (526,1.5) (526.5,1.7) (527,2.3) (527.3,3.5) (527.6,7) (527.8,12) (528.0,18) (528.2,25) (528.4,34) (528.6,49) (528.8,60) (529.0,69) (529.2,76) (529.4,81) (529.6,84.5) (529.8,86) (530.0,86) (530.2,84.5) (530.4,80) (530.6,73) (530.8,66) (531.0,59) (531.2,52) (531.4,45.5) (531.6,40) (531.8,35) (532.0,30) (532.2,26.5) (532.4,23) (532.6,20) (532.8,17) (533.0,14.5) (533.3,11.5) (533.6,8.5) (534.0,5.5) (534.3,4.2) (534.6,3.2) (535,2.5)};
\node[font={\fs{8.5}\bfseries}] at (527.42,94.4) {e};
\node[font={\fs{8.5}\bfseries}] at (527.68,88.4) {O \textit{1s}};
\node[font={\fs{8}\bfseries\itshape}, text=labgreen] at (533.9,92.4) {NMH-24};
\node[font=\fs{7.8}] at (528.6,12.3) {LO};
\node[font=\fs{7.8}] at (529.8,12.3) {DO};
\node[font=\fs{7.8}] at (531.69,13.8) {SO};
\node[font=\fs{7.8}, text=shtext] at (532.2,4.2) {S\textsubscript{H\textsubscript{2}O}};
\node[font=\fs{7.6}, rotate=90, yshift=5.8pt] at (rel axis cs:0,0.45) {Counts};
\node[font=\fs{8}, yshift=-21.5pt] at (rel axis cs:0.5,0) {Binding energy (eV)};
\end{axis}
\end{tikzpicture}
\end{document}
